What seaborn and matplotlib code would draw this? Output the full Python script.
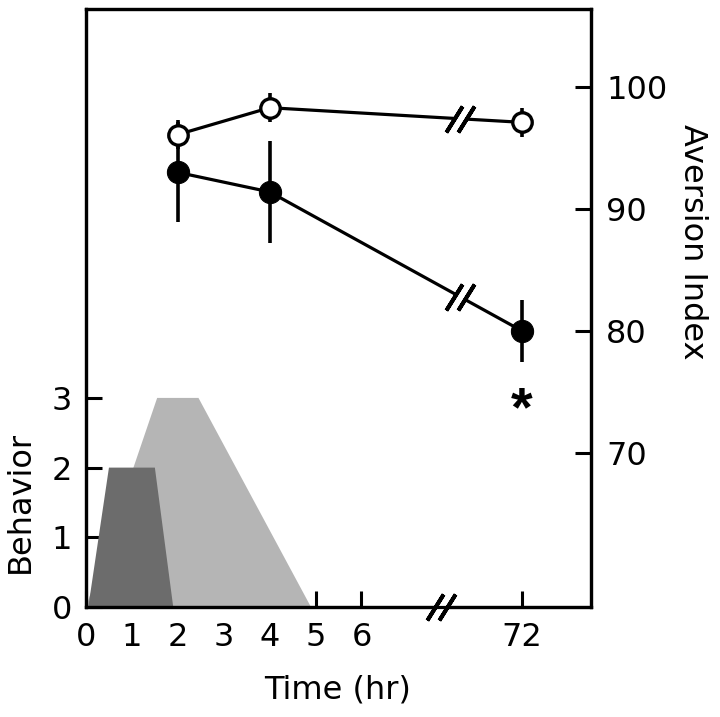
import numpy as np
import pandas as pd
import matplotlib
matplotlib.use("Agg")
import matplotlib.pyplot as plt
import matplotlib.transforms as mtrans
import seaborn as sns

# behaviour profiles (hr, score)
dark_t = [0.05, 0.5, 1.5, 1.9]
dark_b = [0, 2, 2, 0]
light_t = [0.0, 1.55, 2.45, 4.9]
light_b = [0, 3, 3, 0]

# aversion index
times = [2, 4, 72]
control = [96.1, 98.3, 97.1]
control_err = [1.2, 1.2, 1.2]
treated = [93.0, 91.4, 80.0]
treated_err = [4.1, 4.2, 2.5]

xtick_labels = ["0", "1", "2", "3", "4", "5", "6", "72"]
xtick_hours = [0, 1, 2, 3, 4, 5, 6, 72]

def xpos(t):
    # broken axis: 0-6 hr linear, 72 hr drawn at 9.5
    return 9.5 if t == 72 else t

sns.set_style("ticks")
plt.rcParams["font.family"] = ["DejaVu Sans"]
plt.rcParams["text.color"] = "black"
fs = 23

fig = plt.figure(figsize=(7.2, 7.17), dpi=100)
ax = fig.add_axes([86 / 720, 1 - 607 / 717, 505 / 720, 598 / 717])
ax2 = ax.twinx()

ax.fill(light_t, light_b, color="#b5b5b5", lw=0, zorder=1)
ax.fill(dark_t, dark_b, color="#6c6c6c", lw=0, zorder=2)

ax.set_xlim(0, 11.0)
ax.set_ylim(0, 8.58)
ax2.set_ylim(57.38, 106.39)

ax.set_xticks([xpos(t) for t in xtick_hours])
ax.set_xticklabels(xtick_labels)
ax.set_yticks([0, 1, 2, 3])
ax2.set_yticks([70, 80, 90, 100])

for a in (ax, ax2):
    for s in a.spines.values():
        s.set_linewidth(2.3)
        s.set_color("black")
        s.set_visible(True)
ax.tick_params(axis="both", direction="in", length=11.5, width=2.2,
               labelsize=fs, colors="black", pad=10)
ax.tick_params(axis="x", pad=11)
ax2.tick_params(axis="y", direction="in", length=11.5, width=2.2,
                labelsize=fs, colors="black", pad=11)

xs = [xpos(t) for t in times]
df = pd.DataFrame({"x": xs + xs,
                   "y": control + treated,
                   "group": ["control"] * 3 + ["treated"] * 3})

ax2.errorbar(xs, treated, yerr=treated_err, fmt="none", ecolor="black",
             elinewidth=2.6, capsize=0, zorder=3)
ax2.errorbar(xs, control, yerr=control_err, fmt="none", ecolor="black",
             elinewidth=2.6, capsize=0, zorder=3)
sns.lineplot(data=df[df.group == "treated"], x="x", y="y", ax=ax2,
             color="black", lw=2.3, marker="o", markersize=16,
             markerfacecolor="black", markeredgecolor="black", zorder=4)
sns.lineplot(data=df[df.group == "control"], x="x", y="y", ax=ax2,
             color="black", lw=2.3, marker="o", markersize=14,
             markerfacecolor="white", markeredgecolor="black",
             markeredgewidth=2.4, zorder=5)
ax2.set_xlabel("")
ax2.set_ylabel("")
ax.set_xlabel("")
ax.set_ylabel("")

# break marks
def brk(a, x, y, trans_y=None):
    base = a.transData if trans_y is None else trans_y
    a.plot([x], [y], marker=(2, 2, -32), markersize=26, mew=7,
           color="white", transform=base, clip_on=False, zorder=6)
    for dx in (-6, 6):
        tr = mtrans.offset_copy(base, fig=fig, x=dx, y=0, units="dots")
        a.plot([x], [y], marker=(2, 2, -32), markersize=22, mew=2.8,
               color="black", transform=tr, clip_on=False, zorder=7)

line_brk = 8.15
for ser in (control, treated):
    ybrk = np.interp(line_brk, [xs[1], xs[2]], [ser[1], ser[2]])
    brk(ax2, line_brk, ybrk)
brk(ax, 7.74, 0, trans_y=mtrans.blended_transform_factory(ax.transData, ax.transAxes))

ax2.annotate("*", xy=(xs[2], treated[2]), xytext=(0, -58),
             textcoords="offset points", ha="center", va="center",
             fontsize=40, fontweight="bold", color="black",
             family=["Liberation Sans", "DejaVu Sans"])

fig.text(20 / 720, 1 - 502 / 717, "Behavior", rotation=90, ha="center",
         va="center", fontsize=fs, color="black")
fig.text(692 / 720, 1 - 242 / 717, "Aversion Index", rotation=270,
         ha="center", va="center", fontsize=fs, color="black")
fig.text(338 / 720, 1 - 690 / 717, "Time (hr)", ha="center", va="center",
         fontsize=fs, color="black")

fig.savefig("out.png", dpi=100, facecolor="white")
